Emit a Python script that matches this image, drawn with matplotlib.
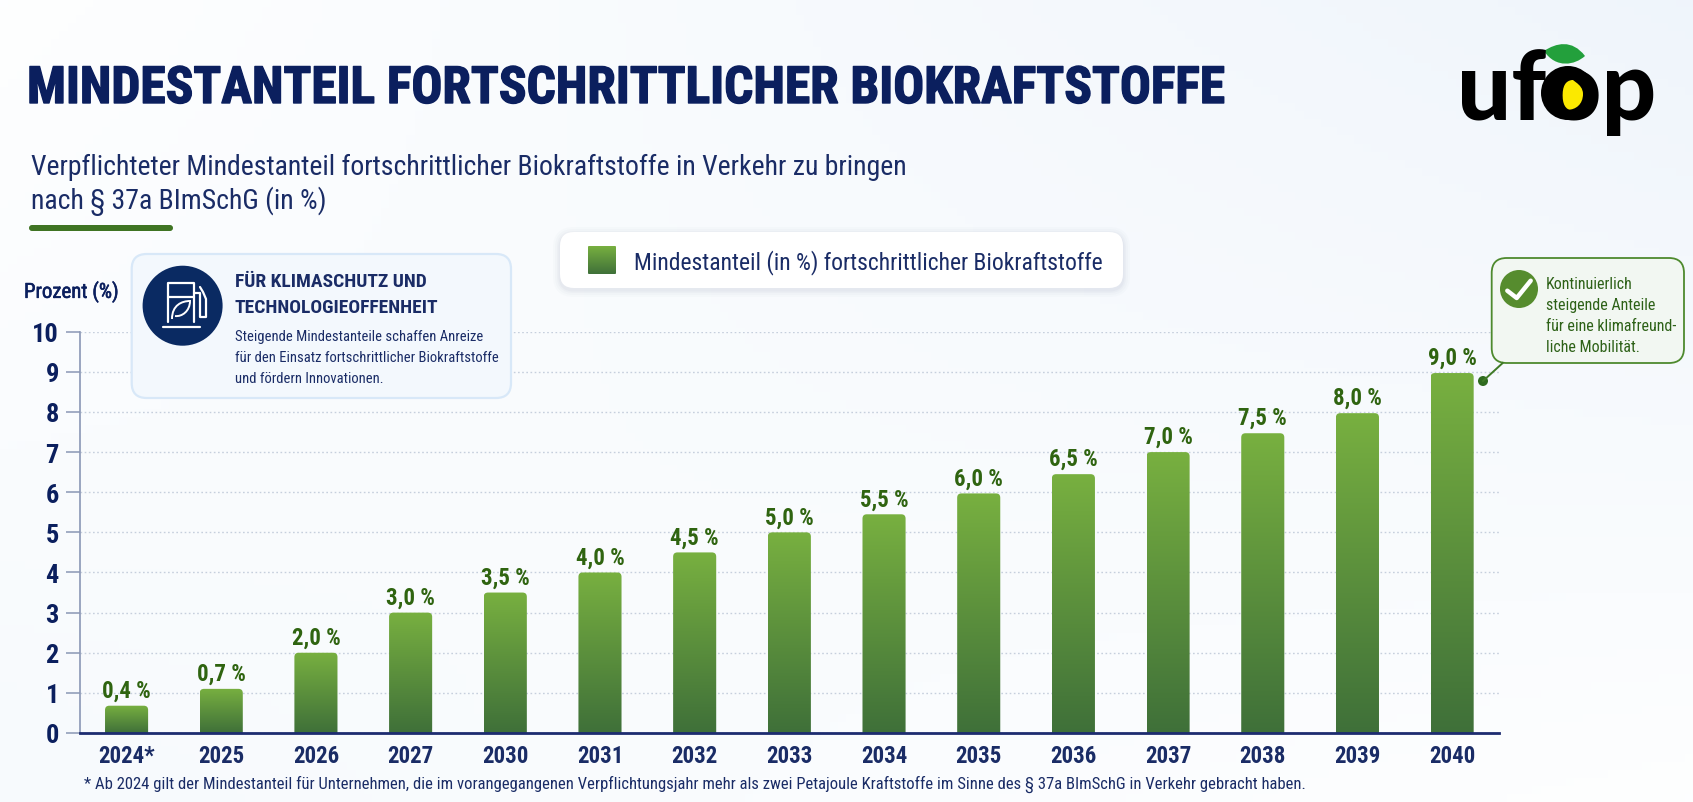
import numpy as np
import matplotlib
matplotlib.use("Agg")
import matplotlib.pyplot as plt
import matplotlib.patheffects as pe
from matplotlib.colors import LinearSegmentedColormap
from matplotlib.patches import Circle, FancyBboxPatch, PathPatch
from matplotlib.path import Path

years = ["2024*", "2025", "2026", "2027", "2030", "2031", "2032", "2033",
         "2034", "2035", "2036", "2037", "2038", "2039", "2040"]
# bar heights as drawn in the picture (first two differ from their labels)
bar_heights = [0.68, 1.1, 2.0, 3.0, 3.5, 4.0, 4.5, 5.0, 5.45, 5.97, 6.45, 7.0, 7.47, 7.97, 8.97]
value_labels = ["0,4 %", "0,7 %", "2,0 %", "3,0 %", "3,5 %", "4,0 %", "4,5 %", "5,0 %",
                "5,5 %", "6,0 %", "6,5 %", "7,0 %", "7,5 %", "8,0 %", "9,0 %"]
y_ticks = [0, 1, 2, 3, 4, 5, 6, 7, 8, 9, 10]

W, H = 1693, 803
NAVY = "#0B1F5E"
TEXT_NAVY = "#1A2C66"
GREEN = "#2F6410"
COND = ["Liberation Sans Narrow", "Roboto Condensed", "Roboto", "DejaVu Sans"]
plt.rcParams["font.family"] = COND

bar_cmap = LinearSegmentedColormap.from_list("bar", ["#78B040", "#3F7039"])
grad = np.linspace(0, 1, 256).reshape(-1, 1)

fig = plt.figure(figsize=(W / 100, H / 100), dpi=100)

# page background, pale blue towards the upper right
bg = fig.add_axes([0, 0, 1, 1], zorder=0)
xx, yy = np.meshgrid(np.linspace(0, 1, 200), np.linspace(0, 1, 100))
tint = np.clip(0.75 * xx * (1 - yy) + 0.35 * (1 - xx) * yy, 0, 1)
page = np.dstack([np.array(c) - tint * d for c, d in ((0.995, 0.075), (0.998, 0.05), (1.0, 0.02))])
bg.imshow(page, extent=(0, W, H, 0), aspect="auto")
bg.set_xlim(0, W)
bg.set_ylim(H, 0)
bg.axis("off")

# chart area
ax_l, ax_r, ax_t, ax_b = 79.7, 1499, 332.7, 734
ax = fig.add_axes([ax_l / W, 1 - ax_b / H, (ax_r - ax_l) / W, (ax_b - ax_t) / H], zorder=1)
ax.patch.set_alpha(0)
x = np.arange(len(years))
bars = ax.bar(x, bar_heights, width=0.455, facecolor="none", edgecolor="none")

for r in bars:
    x0, w, h = r.get_x(), r.get_width(), r.get_height()
    shape = FancyBboxPatch((x0, -0.5), w, h + 0.5,
                           boxstyle="round,pad=0,rounding_size=0.045",
                           mutation_aspect=2.36, facecolor="none", edgecolor="none")
    ax.add_patch(shape)
    im = ax.imshow(grad, cmap=bar_cmap, extent=(x0, x0 + w, 0, h), aspect="auto", zorder=3)
    im.set_clip_path(shape)

for i, (h, lab) in enumerate(zip(bar_heights, value_labels)):
    ax.annotate(lab, (i, h), xytext=(0, 6.5), textcoords="offset points", ha="center",
                va="baseline", fontsize=16.5, fontweight="bold", color=GREEN)

ax.set_xlim(-0.495, 14.495)
ax.set_ylim(0, 10)
ax.set_yticks(y_ticks)
ax.set_xticks(x)
ax.set_xticklabels(years)
ax.tick_params(axis="x", length=0, pad=8, labelsize=16.5, labelcolor=TEXT_NAVY)
ax.tick_params(axis="y", length=10, width=1.1, color="#8A97B5", pad=5, labelsize=19, labelcolor=NAVY)
for t in ax.get_xticklabels() + ax.get_yticklabels():
    t.set_fontweight("bold")
ax.grid(axis="y", color="#C6CFDD", linewidth=1, linestyle=(0, (1.2, 1.8)), zorder=1)
ax.set_axisbelow(True)
for s in ("top", "right"):
    ax.spines[s].set_visible(False)
ax.spines["left"].set_color("#8A97B5")
ax.spines["left"].set_linewidth(1.2)
ax.spines["bottom"].set_color("#1D2C70")
ax.spines["bottom"].set_linewidth(2)
ax.spines["bottom"].set_zorder(5)

# everything else sits on an overlay in pixel coordinates
top = fig.add_axes([0, 0, 1, 1], zorder=2)
top.patch.set_alpha(0)
top.set_xlim(0, W)
top.set_ylim(H, 0)
top.axis("off")


def box(l, t, r, b, rad, **kw):
    p = FancyBboxPatch((l, t), r - l, b - t, boxstyle=f"round,pad=0,rounding_size={rad}", **kw)
    top.add_patch(p)
    return p


top.text(27, 104, "MINDESTANTEIL FORTSCHRITTLICHER BIOKRAFTSTOFFE", fontsize=37,
         fontweight="bold", color=NAVY, va="baseline",
         path_effects=[pe.withStroke(linewidth=1.0, foreground=NAVY)])
top.text(31, 167, "Verpflichteter Mindestanteil fortschrittlicher Biokraftstoffe in Verkehr zu bringen",
         fontsize=20, color=TEXT_NAVY, va="center")
top.text(31, 201, "nach § 37a BImSchG (in %)", fontsize=20, color=TEXT_NAVY, va="center")
box(29, 226, 173, 232, 3, facecolor="#3F7423", edgecolor="none")
top.text(24, 293, "Prozent (%)", fontsize=15, color=NAVY, va="center",
         path_effects=[pe.withStroke(linewidth=0.4, foreground=NAVY)])

# info box
box(131.7, 255, 511, 399, 15, facecolor="#F3F8FD", edgecolor="#D8E8F8", linewidth=1.6)
top.add_patch(Circle((182.6, 306.7), 40, facecolor="#0A2A62", edgecolor="none"))
icon = dict(color="white", linewidth=1.6, solid_capstyle="round", solid_joinstyle="round")
top.plot([168, 168, 194, 194], [323, 284, 284, 323], **icon)
top.plot([168, 194], [298, 298], **icon)
top.plot([163, 200], [328, 328], **icon)
top.plot([194, 200, 200, 206, 206, 203, 200], [294, 294, 318, 318, 300, 293, 288], **icon)
leaf_icon = Path([(172, 320), (172, 306), (182, 302), (190, 302), (190, 312), (182, 318), (175, 317)],
                 [Path.MOVETO, Path.CURVE4, Path.CURVE4, Path.CURVE4, Path.CURVE4, Path.CURVE4, Path.CURVE4])
top.add_patch(PathPatch(leaf_icon, facecolor="none", edgecolor="white", linewidth=1.4))
top.text(234.7, 282, "FÜR KLIMASCHUTZ UND", fontsize=14, color=TEXT_NAVY, va="center", fontweight="bold")
top.text(234.7, 308, "TECHNOLOGIEOFFENHEIT", fontsize=14, color=TEXT_NAVY, va="center", fontweight="bold")
top.text(234.7, 337, "Steigende Mindestanteile schaffen Anreize", fontsize=10.5, color=TEXT_NAVY, va="center")
top.text(234.7, 358, "für den Einsatz fortschrittlicher Biokraftstoffe", fontsize=10.5, color=TEXT_NAVY, va="center")
top.text(234.7, 379, "und fördern Innovationen.", fontsize=10.5, color=TEXT_NAVY, va="center")

# legend card with a soft shadow
for grow, alpha in ((7, 0.02), (5, 0.025), (3, 0.03), (1.5, 0.04)):
    box(560 - grow, 233 - grow + 2, 1123 + grow, 289 + grow + 2, 14 + grow,
        facecolor="#5A6C90", edgecolor="none", alpha=alpha)
box(560, 233, 1123, 289, 14, facecolor="white", edgecolor="none")
swatch = box(588, 247, 616, 275, 1, facecolor="none", edgecolor="none")
sw = top.imshow(grad, cmap=bar_cmap, extent=(588, 616, 275, 247), aspect="auto", zorder=3)
sw.set_clip_path(swatch)
top.text(634, 263, "Mindestanteil (in %) fortschrittlicher Biokraftstoffe", fontsize=17,
         color=TEXT_NAVY, va="center")

# callout at the last bar
top.plot([1502.7, 1483], [364, 382], color="#3F7A26", linewidth=1.4)
top.add_patch(Circle((1483, 382), 5, facecolor="#2F6B1F", edgecolor="none"))
box(1491.7, 259, 1684, 364, 15, facecolor="#F2F7F2", edgecolor="#4E8A2E", linewidth=1.3)
top.add_patch(Circle((1519, 290), 19, facecolor="#568C2E", edgecolor="none"))
top.plot([1507.3, 1516.7, 1530.7], [291.7, 299, 281.7], color="white", linewidth=3.2,
         solid_capstyle="round", solid_joinstyle="round")
for ypos, line in zip((285, 306, 327, 348), ("Kontinuierlich", "steigende Anteile",
                                             "für eine klimafreund-", "liche Mobilität.")):
    top.text(1546, ypos, line, fontsize=11.5, color="#2D6117", va="center")

# footnote
top.text(84, 784, "* Ab 2024 gilt der Mindestanteil für Unternehmen, die im vorangegangenen "
         "Verpflichtungsjahr mehr als zwei Petajoule Kraftstoffe im Sinne des § 37a BImSchG "
         "in Verkehr gebracht haben.", fontsize=12, color=TEXT_NAVY, va="center")

# logo
top.text(1457, 120, "ufop", fontsize=69, fontfamily=["Lato", "DejaVu Sans"], fontweight=900,
         color="black", va="baseline")
top.add_patch(Circle((1568, 94), 27, facecolor="black", edgecolor="none"))
leaf = Path([(1544, 52), (1556, 44), (1572, 40), (1585, 57), (1575, 66), (1556, 70), (1544, 52)],
            [Path.MOVETO, Path.CURVE4, Path.CURVE4, Path.CURVE4, Path.CURVE4, Path.CURVE4, Path.CURVE4])
top.add_patch(PathPatch(leaf, facecolor="#23A03C", edgecolor="none"))
drop = Path([(1568, 75), (1566, 82), (1553, 84), (1553, 95), (1553, 116), (1583, 116), (1583, 95),
             (1583, 84), (1570, 82), (1568, 75)],
            [Path.MOVETO, Path.CURVE4, Path.CURVE4, Path.CURVE4, Path.CURVE4, Path.CURVE4, Path.CURVE4,
             Path.CURVE4, Path.CURVE4, Path.CURVE4])
top.add_patch(PathPatch(drop, facecolor="#FBE900", edgecolor="none"))

fig.savefig("out.png", dpi=100)
